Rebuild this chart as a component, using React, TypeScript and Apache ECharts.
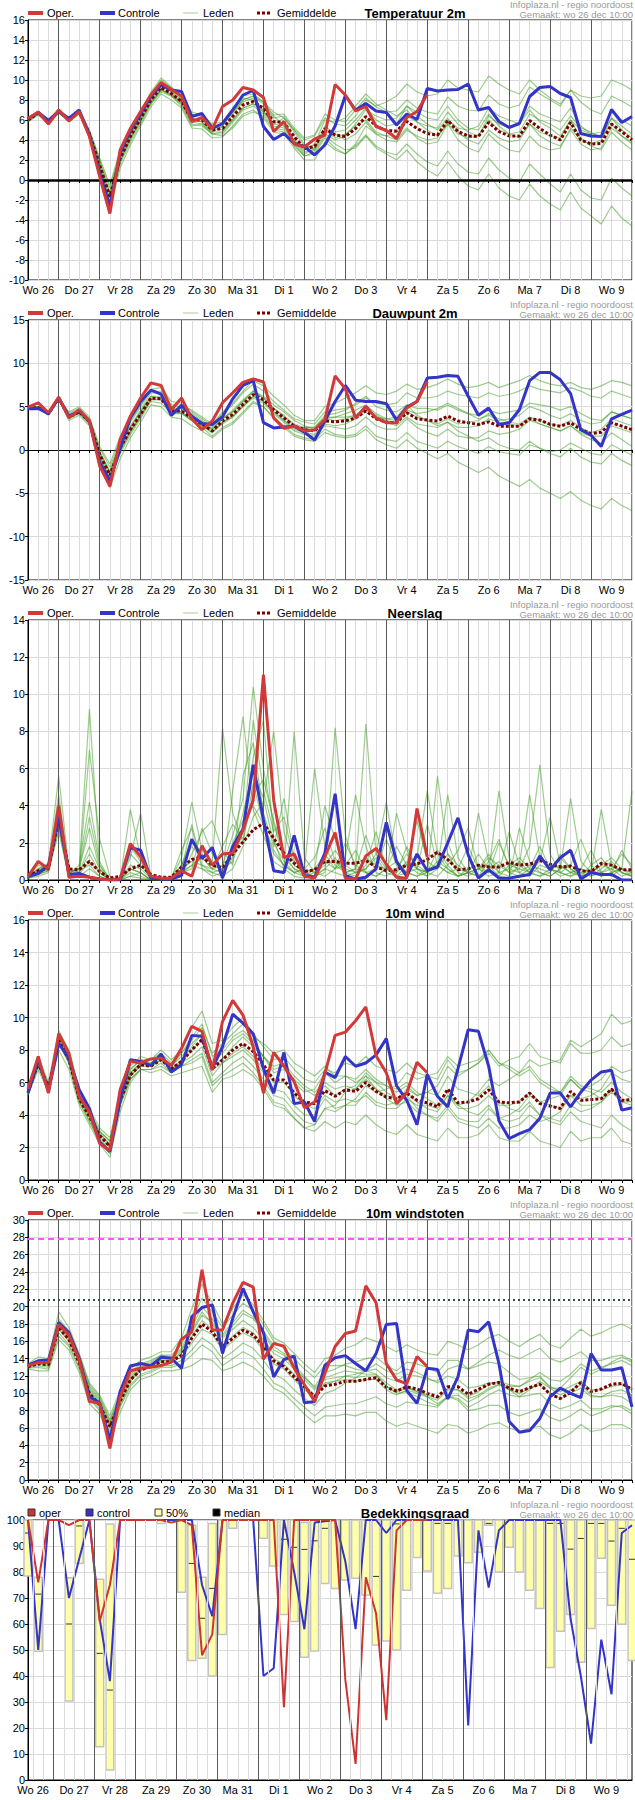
import React, { useEffect, useRef } from "react";
import * as echarts from "echarts";

const DAYS = ["Wo 26", "Do 27", "Vr 28", "Za 29", "Zo 30", "Ma 31", "Di 1", "Wo 2", "Do 3", "Vr 4", "Za 5", "Zo 6", "Ma 7", "Di 8", "Wo 9"];
const TITLES = ["Temperatuur 2m", "Dauwpunt 2m", "Neerslag", "10m wind", "10m windstoten", "Bedekkingsgraad"];

// ---------- Temperatuur 2m ----------
const T_OPER = [6.15,6.8,5.6,7.0,5.9,6.85,4.35,0.35,-3.35,3.0,5.15,6.85,8.5,9.75,9.05,8.4,5.85,6.25,5.1,7.35,8.0,9.25,9.0,8.25,4.85,5.85,3.6,3.3,4.1,4.5,9.55,8.5,6.9,7.35,5.35,4.95,4.15,6.25,6.85,8.55];
const T_CTRL = [6.15,6.75,5.95,6.85,6.15,7.0,4.5,0.65,-2.65,2.65,4.95,6.65,8.35,9.5,9.0,8.85,6.35,6.65,5.15,5.65,7.0,8.5,8.95,5.35,4.05,4.65,3.65,3.35,2.5,3.5,5.4,8.45,7.0,7.65,6.9,6.75,5.5,6.6,6.05,9.15,8.9,9.0,9.05,9.6,7.0,7.25,5.85,5.25,5.65,8.35,9.25,9.35,8.65,8.25,4.65,4.4,4.35,7.05,5.75,6.35];
const T_MEAN = [6.0,6.7,5.8,6.9,6.0,6.8,4.6,1.5,-1.65,2.15,4.35,6.15,8.0,9.25,8.65,7.85,6.0,6.0,5.0,5.15,6.35,7.5,7.85,7.15,5.85,5.75,4.35,3.15,3.35,5.15,4.5,4.35,5.15,6.35,5.4,4.95,4.9,5.85,5.15,4.65,4.5,5.95,4.85,4.4,4.35,5.75,4.85,4.4,4.4,5.95,5.15,4.5,4.0,5.75,4.0,3.6,3.65,5.6,4.85,4.0];
const T_M1 = [6.2,6.9,6.0,7.1,6.2,7.0,5.0,2.2,-0.5,3.0,5.0,6.8,8.8,10.2,9.3,8.4,6.8,6.5,5.6,5.8,7.2,8.4,8.6,7.8,6.5,6.6,5.2,4.2,4.5,6.6,6.0,5.8,7.0,8.2,7.3,6.8,6.9,8.0,7.2,6.8,6.6,8.3,7.4,7.0,6.9,8.5,7.6,7.2,7.5,9.3,8.6,8.0,7.4,9.0,7.8,7.0,6.6,8.4,7.9,7.3];
const T_M2 = [5.8,6.5,5.6,6.7,5.8,6.6,4.2,0.8,-3.0,1.2,3.5,5.4,7.3,8.6,8.0,7.2,5.2,5.1,4.2,4.3,5.4,6.6,7.0,6.2,4.8,4.6,3.2,2.0,2.0,3.8,3.0,2.6,3.4,4.5,3.4,2.8,2.5,3.6,2.6,1.8,1.4,2.9,1.6,0.8,0.6,2.2,1.0,0.2,-0.2,1.6,0.6,-0.4,-1.2,0.6,-1.0,-1.8,-2.0,0.2,-0.8,-1.6];
const T_M3 = [6.1,6.8,5.9,6.9,6.1,6.9,4.8,1.8,-1.2,2.6,4.6,6.4,8.4,9.6,9.0,8.1,6.4,6.6,5.4,5.0,6.0,7.2,7.6,7.4,6.2,6.4,5.0,3.6,3.0,4.6,4.0,4.4,5.6,7.0,6.4,6.0,6.2,7.4,6.4,5.6,5.0,6.2,4.8,4.0,3.6,5.0,4.2,3.8,4.0,5.6,4.8,4.4,4.2,6.0,5.0,4.6,4.8,6.8,6.0,5.4];
const T_M4 = [5.9,6.6,5.7,6.8,5.9,6.7,4.4,1.2,-2.2,1.8,4.0,5.8,7.6,8.8,8.4,7.6,5.6,5.4,4.6,4.8,6.6,7.8,8.2,7.0,5.4,5.2,3.8,2.6,3.2,5.4,4.6,4.0,4.6,5.8,4.6,4.0,3.8,5.0,4.4,4.0,4.2,6.0,5.2,5.0,5.4,7.2,6.4,6.0,5.6,7.0,5.8,5.2,4.4,6.0,4.2,3.4,3.0,4.8,3.8,3.0];
const T_M5 = [6.0,6.7,5.8,7.0,6.0,6.8,4.6,1.4,-1.8,2.2,4.4,6.2,8.2,9.4,8.8,8.0,6.2,5.8,4.8,5.4,6.8,8.0,8.4,7.6,6.4,5.4,4.0,3.0,3.6,6.0,5.8,6.2,7.4,8.6,7.6,7.0,6.4,7.0,5.8,5.0,4.4,5.6,4.0,3.2,2.8,4.6,3.6,3.0,2.8,4.4,3.4,3.0,3.2,5.2,4.0,3.6,4.0,6.2,5.4,4.6];
const T_M6 = [6.1,6.7,5.7,6.8,5.9,6.8,4.3,1.0,-2.6,1.6,3.8,5.6,7.6,9.0,8.4,7.4,5.4,5.6,4.6,4.4,5.2,6.4,6.8,6.4,5.0,4.8,3.4,2.4,2.6,4.2,3.2,2.6,3.6,5.4,4.6,4.4,4.8,6.4,5.8,5.4,5.2,6.8,5.6,4.8,4.4,6.0,5.0,4.6,4.8,6.6,6.0,5.6,5.0,6.4,5.2,4.8,4.2,5.6,4.4,3.6];
const T_M7 = [6.0,6.8,5.9,6.9,6.1,6.9,4.9,2.0,-0.8,2.8,4.8,6.6,8.6,10.0,9.2,8.2,6.6,6.4,5.4,5.6,6.8,8.0,8.4,7.8,6.8,6.2,5.0,4.0,4.4,6.2,5.6,5.4,6.4,8.0,7.4,7.8,8.4,9.6,8.8,8.4,8.6,10.0,9.2,9.0,8.8,10.4,9.6,9.0,8.6,10.0,9.0,8.2,7.6,9.0,8.4,8.2,8.4,10.0,9.6,9.0];
const T_M8 = [5.9,6.6,5.7,6.8,5.9,6.7,4.3,1.1,-2.4,1.9,4.2,5.9,7.8,9.0,8.5,7.7,5.8,5.6,4.6,4.6,5.8,7.0,7.4,6.6,5.2,5.0,3.6,2.4,2.8,4.4,3.6,3.0,3.2,4.4,3.2,2.6,2.0,3.0,1.8,1.0,0.4,1.8,0.4,-0.6,-1.0,0.6,-0.8,-1.6,-2.0,-0.4,-1.6,-2.4,-3.0,-1.2,-2.8,-3.6,-4.4,-2.6,-3.8,-4.6];
const T_M9 = [6.0,6.7,5.8,6.9,6.0,6.8,4.7,1.6,-1.4,2.4,4.6,6.2,8.0,9.2,8.6,7.8,6.0,6.2,5.2,5.4,7.0,8.2,8.0,6.8,5.6,6.2,4.8,3.4,3.2,5.0,4.8,5.0,6.0,7.2,6.0,5.4,5.6,7.4,6.8,6.2,6.0,7.4,6.0,5.2,5.0,6.6,5.4,4.6,4.2,5.6,4.4,3.8,3.4,5.0,3.6,3.0,3.2,5.2,4.4,3.8];
const T_M10 = [6.1,6.8,5.9,7.0,6.1,6.9,4.5,1.3,-2.0,2.0,4.2,6.0,7.8,9.0,8.6,7.8,6.0,5.8,4.8,4.8,6.0,7.2,7.6,6.8,5.6,5.4,4.0,2.8,3.0,5.0,4.2,4.6,5.4,6.0,4.8,4.4,4.0,5.2,4.2,3.6,3.8,5.6,4.6,4.2,4.4,6.4,5.6,5.2,5.6,7.4,6.6,6.2,5.8,7.2,5.4,4.6,4.4,6.2,5.0,4.2];

// ---------- Dauwpunt 2m ----------
const D_OPER = [4.95,5.45,4.3,6.1,3.7,4.65,3.35,-1.85,-4.2,1.2,3.9,6.0,7.75,7.45,4.65,6.0,3.6,2.35,3.35,5.45,6.6,7.8,8.2,7.85,3.7,2.5,2.75,2.2,2.3,3.5,8.55,7.05,3.7,5.05,3.7,3.15,3.15,4.85,5.6,7.9];
const D_CTRL = [4.75,4.8,4.2,6.0,3.9,4.5,3.35,-1.45,-3.55,0.15,3.7,5.6,6.9,6.45,4.0,5.15,3.9,3.05,2.95,3.85,5.9,7.45,8.0,3.15,2.55,2.65,2.75,2.05,1.15,3.35,5.6,7.45,5.75,5.6,5.6,5.35,3.45,4.95,5.6,8.3,8.4,8.6,8.5,6.2,4.0,4.85,2.95,3.15,4.65,8.0,8.95,8.95,8.1,6.5,2.35,1.7,0.4,3.6,4.1,4.6];
const D_MEAN = [4.8,4.9,4.2,6.0,3.8,4.4,3.3,-0.5,-2.9,0.25,2.35,4.1,6.0,5.9,4.5,4.5,3.7,3.0,2.2,3.35,4.1,5.25,6.4,5.8,4.65,3.7,2.75,2.35,2.2,3.35,3.25,3.35,3.7,4.5,3.6,3.2,3.15,4.3,3.6,3.45,3.35,3.9,3.35,3.15,2.95,3.25,2.75,2.75,2.75,3.6,3.45,2.95,2.75,3.15,2.35,1.9,2.05,3.15,2.75,2.35];
const D_M1 = [4.9,5.0,4.4,6.1,4.2,4.8,3.6,0.2,-2.0,1.2,3.2,5.0,7.0,7.2,5.6,5.4,4.4,3.6,2.8,4.2,5.2,6.6,7.6,6.8,5.6,4.6,3.6,3.2,3.0,4.4,4.6,4.8,5.2,6.0,5.4,5.2,5.4,6.6,6.0,6.0,6.2,6.8,6.4,6.2,6.0,6.6,6.2,6.4,6.8,7.4,7.0,6.8,6.6,7.2,6.8,6.2,6.0,6.8,6.4,6.0];
const D_M2 = [4.7,4.8,4.0,5.8,3.4,4.0,2.8,-1.4,-4.4,-1.0,1.4,3.2,5.2,5.0,3.8,3.6,2.8,2.2,1.4,2.4,3.0,4.2,5.4,5.0,3.6,2.6,1.6,1.2,1.0,2.0,1.6,1.4,1.6,2.4,1.2,0.6,0.2,1.2,0.2,-0.4,-1.0,-0.4,-1.4,-2.0,-2.6,-2.0,-3.0,-3.6,-4.2,-3.4,-4.4,-5.0,-5.6,-4.8,-5.8,-6.4,-6.8,-5.6,-6.4,-7.0];
const D_M3 = [4.8,4.9,4.3,6.0,3.9,4.5,3.4,-0.2,-2.4,0.8,2.8,4.6,6.6,6.6,5.0,5.0,4.2,3.4,2.6,3.6,4.4,5.6,6.8,6.2,5.2,4.4,3.4,2.8,2.4,3.6,3.8,4.2,4.6,5.2,4.2,3.6,3.4,4.6,4.2,4.4,4.8,5.4,4.8,4.2,3.6,4.0,3.4,3.6,4.0,5.0,4.6,4.0,3.6,4.2,3.4,3.0,3.2,4.4,4.0,3.6];
const D_M4 = [4.8,4.9,4.1,5.9,3.6,4.2,3.0,-1.0,-3.6,-0.4,1.8,3.6,5.6,5.4,4.2,4.2,3.4,2.8,2.0,3.0,3.8,5.0,6.0,5.4,4.2,3.2,2.2,1.8,1.6,2.8,2.6,2.4,2.8,3.8,2.8,2.4,2.4,3.6,2.6,2.0,1.6,2.4,1.6,1.4,1.4,2.2,1.8,2.0,2.4,3.4,3.0,2.6,2.2,2.8,1.8,1.2,0.8,2.0,1.2,0.4];
const D_M5 = [4.9,5.0,4.3,6.1,4.0,4.6,3.5,-0.4,-2.6,0.6,2.6,4.4,6.2,6.2,4.8,4.8,3.8,3.2,2.4,3.6,4.6,5.8,6.8,6.0,4.8,3.8,2.8,2.6,2.6,4.0,4.2,4.6,5.4,6.2,5.0,4.6,4.4,5.2,4.0,3.4,2.8,3.2,2.2,1.6,1.0,1.4,0.6,0.2,0.0,1.0,0.2,-0.4,-0.8,0.2,-0.8,-1.4,-1.6,-0.4,-1.2,-1.8];
const D_M6 = [4.7,4.8,4.1,5.9,3.7,4.3,3.2,-0.8,-3.4,-0.2,2.0,3.8,5.8,5.8,4.4,4.4,3.6,2.8,2.0,3.2,3.8,5.0,6.2,5.6,4.4,3.4,2.4,2.0,1.8,3.0,2.8,3.0,3.6,4.6,3.8,3.6,3.8,5.2,4.8,4.8,4.6,5.2,4.6,4.2,4.0,4.6,4.2,4.4,4.6,5.4,5.2,5.0,4.6,5.0,4.2,3.6,3.4,4.4,4.0,3.6];
const D_M7 = [4.8,5.0,4.4,6.0,4.4,5.0,3.8,0.4,-1.6,1.6,3.4,5.2,6.8,6.8,5.2,5.2,4.6,3.8,3.0,4.4,5.4,6.8,8.0,7.4,6.2,5.2,4.0,3.4,3.4,5.0,5.4,6.0,6.6,7.4,6.6,6.4,6.8,7.6,7.0,7.2,7.6,8.2,7.6,7.2,7.4,7.8,7.2,7.6,8.0,8.6,8.0,7.6,7.4,7.8,7.2,7.0,7.4,8.0,7.8,7.4];
const D_M8 = [4.8,4.9,4.2,6.0,3.8,4.4,3.2,-0.6,-3.0,0.0,2.2,4.0,6.0,6.0,4.6,4.4,3.4,2.6,1.6,2.6,3.2,4.4,5.6,5.0,3.8,2.8,1.8,1.4,1.2,2.4,1.8,1.6,1.8,2.8,1.6,1.2,1.0,2.0,1.0,0.6,0.2,1.0,0.4,0.0,-0.4,0.4,-0.2,-0.4,-0.6,0.6,0.2,-0.2,0.0,0.8,0.2,-0.4,-0.6,0.6,0.0,-0.6];
const D_M9 = [4.8,4.9,4.2,6.0,3.9,4.5,3.4,-0.3,-2.6,0.6,2.6,4.4,6.2,6.0,4.6,4.8,4.0,3.2,2.4,3.6,4.4,5.6,6.6,6.0,4.8,4.0,3.0,2.6,2.6,3.8,3.8,3.8,4.0,4.8,3.8,3.2,2.8,3.8,3.0,2.8,2.6,3.2,2.6,2.6,2.8,3.6,3.2,3.0,2.8,3.6,3.0,2.6,2.2,2.8,2.0,1.6,1.6,2.8,2.4,2.0];
const D_M10 = [4.8,4.9,4.2,6.0,3.7,4.3,3.1,-0.9,-3.4,0.0,2.2,4.0,5.8,5.8,4.4,4.2,3.4,2.8,2.2,3.2,4.0,5.2,6.2,5.6,4.4,3.4,2.6,2.4,2.4,3.6,3.4,3.6,4.0,4.8,4.0,3.4,3.2,4.4,3.8,3.4,3.0,3.6,3.0,3.2,3.4,4.2,3.6,3.2,3.0,3.8,3.4,3.0,2.8,3.4,2.6,2.0,2.4,3.6,3.2,2.8];

// ---------- Neerslag ----------
const P_OPER = [0.2,1.0,0.6,4.0,0.15,0.2,0.15,0.05,0,0.05,1.95,1.25,0.2,0.1,0.1,0.5,0.2,1.85,0.8,1.4,1.45,2.7,4.3,11.05,4.3,1.2,1.4,0.2,0.1,1.25,2.55,0.1,0.05,1.3,1.7,0.85,0.15,0.1,3.85,1.25];
const P_CTRL = [0.2,0.35,0.8,3.4,0.3,0.35,0.15,0.05,0,0,1.75,1.6,0.1,0.05,0.05,0.25,2.2,1.15,1.75,0.1,1.8,2.75,6.2,3.25,0.5,0.4,2.4,0.25,0.15,1.45,4.65,0.25,0.05,0.15,0.6,3.1,1.0,0.2,1.4,0.5,0.7,2.0,3.35,1.35,0.1,0.55,0.1,0.1,0.2,0.3,1.3,0.55,1.2,1.6,0.05,0.4,0.3,0.3,0,0];
const P_MEAN = [0.2,0.5,0.6,3.3,0.6,0.55,1.0,0.45,0.1,0.2,0.6,0.8,0.3,0.15,0.15,0.7,1.1,1.25,0.8,0.65,1.4,2.05,2.7,3.05,2.25,1.45,0.9,0.45,0.55,1.0,1.0,0.9,0.9,1.05,0.7,0.5,0.55,0.8,0.85,1.1,1.5,1.1,0.55,0.6,0.8,0.7,0.7,0.95,0.8,0.85,1.05,0.85,0.7,0.75,0.5,0.45,0.9,0.8,0.55,0.55];
const P_M1 = [0.2,0.6,0.8,4.6,0.4,0.6,9.2,0.8,0.0,0.0,0.6,0.4,0.0,0.0,0.1,0.8,1.8,1.2,0.6,0.8,2.4,4.4,10.4,6.0,3.0,1.2,0.6,0.2,0.4,0.8,1.6,0.8,0.4,0.6,1.2,0.4,0.2,0.8,3.2,1.0,0.6,1.4,0.8,0.4,0.2,1.0,2.2,0.6,0.4,0.8,0.6,0.4,1.4,0.6,0.2,0.4,0.8,1.2,0.6,0.4];
const P_M2 = [0.1,0.4,0.6,3.2,0.2,0.4,7.0,2.2,0.2,0.0,3.8,1.2,0.1,0.0,0.0,0.4,0.6,2.8,1.4,0.4,1.2,2.8,6.6,8.6,2.2,0.6,0.2,0.1,0.2,0.4,8.2,2.4,0.6,0.4,0.2,0.6,1.8,0.8,0.4,0.2,0.6,4.6,1.2,0.4,0.6,0.8,0.2,0.1,2.8,1.0,0.4,0.2,0.6,4.4,1.0,0.4,0.2,0.4,0.6,0.2];
const P_M3 = [0.2,0.5,0.7,3.8,0.3,0.8,4.2,1.0,0.0,0.0,1.2,3.6,0.2,0.1,0.0,0.6,3.0,0.8,0.4,0.2,0.6,1.8,3.4,4.2,8.0,2.6,0.8,0.4,0.6,1.4,0.6,1.2,4.6,1.8,0.4,0.2,0.6,1.4,0.8,0.4,0.2,0.8,1.6,2.8,0.6,0.4,4.8,1.2,0.4,0.2,0.8,0.6,0.4,0.8,2.2,0.8,0.4,0.6,1.4,0.8];
const P_M4 = [0.1,0.3,0.5,2.6,0.1,0.2,0.6,0.2,0.0,0.0,0.4,0.2,0.0,0.0,0.1,1.2,4.2,1.6,1.0,8.2,3.6,2.0,5.2,3.0,1.4,0.8,0.4,0.6,6.0,1.8,0.8,0.4,0.2,0.8,2.6,0.6,0.4,1.0,0.6,0.2,5.6,1.4,0.4,0.2,0.6,1.2,0.8,0.4,0.2,0.6,1.8,0.6,0.2,0.4,0.6,1.6,0.4,0.2,0.6,0.4];
const P_M5 = [0.2,0.6,0.9,5.6,0.6,0.4,1.8,0.6,0.0,0.0,0.2,0.1,0.0,0.0,0.0,0.2,1.4,2.6,3.2,1.6,0.8,5.6,7.4,3.6,1.8,4.4,1.2,0.4,0.2,0.6,1.2,0.4,0.6,8.4,1.4,0.6,0.2,0.4,1.2,4.8,1.4,0.6,0.2,0.4,3.6,1.0,0.4,0.2,0.8,4.6,1.2,0.6,0.4,0.2,0.6,0.4,3.8,0.8,0.4,0.2];
const P_M6 = [0.1,0.2,0.4,2.8,0.2,0.3,1.0,0.4,0.0,0.0,0.8,0.6,0.1,0.0,0.1,0.4,0.8,0.6,0.2,0.4,4.8,8.8,3.8,2.4,1.0,0.6,8.0,1.2,0.4,0.2,0.6,0.8,1.6,0.4,0.2,0.6,1.0,0.4,0.2,0.6,0.8,0.4,0.6,1.8,0.6,0.2,0.4,2.6,0.8,0.4,0.2,0.6,0.8,0.4,0.2,0.8,1.2,0.4,0.6,4.8];
const P_M7 = [0.2,0.8,0.6,4.2,0.4,0.6,2.8,0.6,0.0,0.0,1.8,1.0,0.1,0.0,0.0,0.8,2.2,1.4,0.8,0.6,1.6,3.6,5.8,4.4,2.0,1.0,0.4,0.2,0.6,4.0,2.2,0.6,0.4,1.2,0.8,0.4,3.6,1.6,0.6,0.4,1.0,0.6,0.2,0.4,1.4,0.6,0.2,0.8,1.2,0.6,0.4,0.2,0.6,0.8,0.4,0.2,0.6,1.0,0.4,0.2];
const P_M8 = [0.1,0.4,0.6,3.4,0.2,0.4,1.4,0.4,0.0,0.0,0.6,0.4,0.0,0.0,0.1,0.6,1.0,0.8,0.6,1.8,3.0,2.2,4.6,5.4,3.2,1.4,0.6,0.4,0.2,0.6,0.4,0.2,0.4,0.6,1.4,4.2,1.0,0.4,0.2,0.4,1.6,0.8,0.2,0.4,0.2,0.6,1.0,0.4,0.6,1.8,6.2,1.4,0.4,0.2,0.4,0.6,0.2,0.4,1.6,0.6];
const P_M9 = [0.2,0.5,0.8,4.0,0.4,0.6,3.4,0.8,0.0,0.0,1.4,0.8,0.1,0.0,0.0,0.4,0.8,1.2,0.6,0.4,2.0,3.2,4.0,3.0,1.6,0.8,0.4,0.6,1.2,2.8,1.0,0.4,0.6,2.4,0.8,0.6,0.4,1.8,0.6,0.4,0.8,2.0,0.6,0.4,0.6,1.4,0.4,0.6,1.0,0.4,0.2,0.4,1.2,0.6,0.2,0.4,0.8,0.6,0.2,0.4];
const P_M10 = [0.1,0.3,0.5,3.0,0.3,0.5,0.8,0.2,0.0,0.0,0.2,0.4,0.0,0.0,0.1,1.6,2.8,0.6,0.4,0.6,1.0,2.6,8.6,4.8,2.6,3.4,1.0,0.6,0.4,1.0,0.6,2.0,0.8,0.4,0.6,2.2,0.8,0.4,0.6,3.0,0.8,0.4,0.2,0.6,0.8,0.4,2.0,0.8,0.6,0.4,1.0,3.4,0.8,0.4,0.6,0.2,0.4,0.8,0.4,0.2];

// ---------- 10m wind ----------
const W_OPER = [5.6,7.6,5.35,9.0,7.8,5.15,4.2,2.25,1.8,5.55,7.3,7.2,7.45,7.5,7.05,8.1,9.45,9.15,6.75,9.75,11.05,10.15,8.2,5.35,7.85,7.0,6.05,4.45,4.8,6.55,8.9,9.1,9.8,10.65,7.65,6.6,4.7,5.35,7.25,6.6];
const W_CTRL = [5.35,7.4,5.45,8.4,7.5,5.55,4.4,2.35,1.75,4.9,7.4,7.3,7.05,7.75,6.65,7.1,8.9,8.85,6.85,8.2,10.2,9.65,9.0,6.85,5.35,7.85,4.7,4.8,3.6,6.65,6.3,7.6,7.0,7.2,7.7,8.7,5.8,4.9,3.4,6.5,5.15,4.5,6.85,9.25,9.15,7.0,3.65,2.55,2.85,3.1,3.8,5.35,5.35,4.5,5.4,6.15,6.65,6.75,4.3,4.45];
const W_MEAN = [5.4,7.2,5.7,8.6,7.4,5.0,3.9,2.75,2.05,4.9,6.45,7.1,7.0,7.4,6.85,7.3,8.0,8.65,6.85,7.4,8.0,8.4,7.9,7.1,6.15,6.15,5.35,4.8,4.7,5.5,5.15,5.55,5.45,6.0,5.45,5.1,5.0,5.35,4.9,4.75,4.5,5.6,4.75,4.8,5.0,5.55,4.8,4.75,4.8,5.35,4.7,4.55,4.4,5.45,4.9,4.95,5.0,5.6,4.9,4.95];
const W_M1 = [5.6,7.6,6.0,9.2,8.0,5.6,4.4,3.2,2.6,5.4,7.0,7.6,7.4,8.0,7.4,8.0,9.4,10.4,8.4,8.6,9.4,10.0,9.0,8.2,7.4,7.6,6.8,6.2,6.0,6.8,6.6,7.2,7.0,7.6,7.0,6.8,6.6,7.2,6.6,6.4,6.2,7.4,6.6,6.8,7.2,7.8,7.0,7.4,7.6,8.4,7.6,7.4,7.2,8.4,7.8,7.8,8.0,8.8,8.2,8.4];
const W_M2 = [5.2,6.8,5.4,8.0,6.8,4.6,3.4,2.2,1.4,4.2,6.0,6.8,6.6,6.8,6.4,6.6,6.8,7.0,5.4,6.2,6.4,6.8,6.4,5.6,4.6,4.4,3.8,3.2,3.0,3.6,3.2,3.6,3.4,4.0,3.4,3.0,2.8,3.4,2.8,2.6,2.4,3.2,2.6,2.6,2.8,3.4,2.6,2.4,2.4,3.0,2.4,2.2,2.0,3.0,2.4,2.6,2.6,3.2,2.4,2.2];
const W_M3 = [5.5,7.4,5.8,8.8,7.6,5.2,4.2,3.0,2.4,5.2,6.8,7.4,7.2,7.6,7.0,7.8,8.8,9.6,7.6,8.0,8.8,9.2,8.6,7.6,6.8,7.0,6.0,5.4,5.6,6.6,6.0,6.4,6.2,6.8,6.2,5.8,5.4,5.8,5.2,5.4,5.8,7.0,6.4,6.8,7.2,8.0,7.2,6.8,6.4,6.8,6.0,5.6,5.4,6.4,5.8,5.6,5.4,6.0,5.4,5.0];
const W_M4 = [5.3,7.0,5.6,8.4,7.2,4.8,3.6,2.4,1.8,4.6,6.2,6.8,6.8,7.2,6.6,7.0,7.4,7.8,6.0,6.6,7.2,7.6,7.0,6.2,5.2,5.0,4.2,3.6,3.4,4.4,4.6,5.4,5.6,6.4,6.0,5.8,5.6,6.0,5.4,5.0,4.6,5.4,4.6,4.2,4.0,4.6,3.8,3.6,3.8,4.6,4.0,3.8,3.6,4.6,4.2,4.4,4.8,5.6,5.0,4.8];
const W_M5 = [5.4,7.2,5.8,8.6,7.4,5.2,4.0,2.8,2.2,5.0,6.6,7.2,7.0,7.4,6.8,7.4,8.2,9.0,7.0,7.4,8.2,8.8,8.2,7.6,7.0,7.2,6.4,5.8,5.4,6.0,5.6,5.8,5.6,6.2,5.6,5.2,5.0,5.4,4.8,4.4,4.2,5.2,4.6,4.8,5.4,6.2,5.8,6.2,6.6,7.4,7.0,7.2,7.4,8.6,8.2,8.6,9.0,10.2,9.6,9.8];
const W_M6 = [5.4,7.1,5.6,8.5,7.3,5.0,3.8,2.6,1.8,4.8,6.4,7.0,7.0,7.4,6.8,7.2,7.6,8.2,6.4,7.2,7.6,8.0,7.4,6.6,5.6,5.4,4.6,4.0,4.0,5.0,4.4,4.6,4.6,5.4,4.8,4.6,4.8,5.6,5.2,5.4,5.2,6.4,5.6,5.4,5.2,5.8,4.8,4.4,4.2,4.8,4.0,3.6,3.4,4.2,3.6,3.4,3.2,4.0,3.4,3.0];
const W_M7 = [5.6,7.4,5.9,8.8,7.6,5.2,4.2,3.0,2.4,5.2,6.8,7.4,7.4,7.8,7.2,7.8,8.6,9.4,7.8,8.4,9.0,9.6,8.8,8.4,7.8,8.0,7.2,6.8,6.4,7.0,6.4,6.4,6.0,6.4,5.6,5.0,4.6,4.8,4.2,4.0,3.8,4.6,3.8,3.6,3.6,4.4,3.8,4.0,4.4,5.2,4.8,5.0,5.2,6.2,5.6,5.4,5.0,5.6,4.8,4.6];
const W_M8 = [5.3,7.0,5.5,8.4,7.2,4.8,3.6,2.4,1.6,4.6,6.2,6.8,6.8,7.0,6.6,7.0,7.2,7.6,5.8,6.4,6.8,7.2,6.6,5.8,4.8,4.6,3.8,3.2,3.4,4.4,4.2,4.6,5.0,5.8,5.4,5.6,5.8,6.6,6.2,6.4,6.6,7.6,7.0,7.2,7.4,8.0,7.2,7.0,6.6,7.0,6.2,5.8,5.4,6.2,5.6,5.8,6.2,7.0,6.6,6.8];
const W_M9 = [5.4,7.2,5.7,8.6,7.4,5.0,3.9,2.7,2.0,4.9,6.4,7.1,7.0,7.4,6.9,7.2,8.0,8.6,6.8,7.2,7.8,8.2,7.6,6.8,6.0,6.0,5.2,4.6,4.4,5.2,4.8,5.0,4.8,5.2,4.6,4.4,4.4,5.0,4.6,4.6,4.4,5.2,4.4,4.4,4.6,5.2,4.6,4.6,4.8,5.4,4.8,4.6,4.4,5.2,4.6,4.6,4.8,5.4,4.8,4.8];
const W_M10 = [5.5,7.3,5.8,8.7,7.5,5.1,4.0,2.9,2.2,5.0,6.6,7.2,7.2,7.6,7.0,7.6,8.4,9.0,7.2,7.8,8.6,9.0,8.4,7.6,6.6,6.8,6.2,5.6,5.2,5.8,5.2,5.6,5.8,6.6,6.0,5.4,5.0,5.2,4.4,4.0,3.6,4.4,3.6,3.4,3.2,3.8,3.2,3.2,3.4,4.0,3.6,3.8,4.2,5.2,5.0,5.2,5.6,6.6,6.2,6.0];

// ---------- 10m windstoten ----------
const G_OPER = [13.2,13.55,13.6,17.95,16.75,13.85,9.05,8.85,3.65,9.6,12.6,12.9,13.0,13.2,13.6,16.25,17.1,24.25,17.3,17.3,20.4,22.8,22.25,13.95,15.75,15.45,12.9,11.0,9.05,12.3,15.4,16.9,17.2,22.4,20.45,13.45,11.55,11.1,14.25,13.1];
const G_CTRL = [13.25,13.75,13.85,18.15,17.0,14.05,9.6,8.9,4.6,10.2,13.15,13.45,13.2,14.15,14.05,12.9,18.85,19.9,20.2,14.6,18.65,22.1,19.4,17.0,11.9,13.9,14.3,8.9,9.05,13.25,14.1,14.35,13.45,12.6,14.6,17.95,18.05,10.3,8.85,12.9,12.75,9.35,11.9,17.3,17.1,18.25,13.45,6.75,5.5,5.7,7.1,9.6,10.6,10.0,9.5,14.6,12.7,12.7,12.95,8.45];
const G_MEAN = [13.1,13.4,13.3,17.6,16.2,13.5,10.0,8.65,6.15,9.05,11.55,12.7,13.1,13.65,13.65,14.4,16.35,18.0,17.1,15.4,16.35,17.3,16.75,15.4,13.75,13.1,11.9,10.75,9.6,10.85,11.05,11.4,11.4,11.6,11.8,10.7,10.25,10.75,10.5,10.0,9.6,10.75,10.75,9.9,10.45,11.05,11.25,10.6,10.2,10.65,11.05,9.9,9.4,10.1,11.25,10.2,10.5,11.05,11.15,10.45];
const G_M1 = [13.4,14.2,14.0,19.4,17.6,14.6,11.2,9.8,7.4,10.4,12.8,13.8,14.2,14.8,14.8,16.4,19.8,22.6,20.4,18.0,19.8,21.4,20.2,18.4,16.4,15.8,14.6,13.4,12.4,14.0,14.4,15.2,15.6,16.4,16.0,15.4,14.8,15.6,15.0,14.6,14.4,16.0,15.6,15.0,15.6,16.4,16.8,16.0,15.4,16.2,16.8,15.6,15.2,16.4,17.4,16.6,17.0,17.6,18.0,17.4];
const G_M2 = [12.8,12.6,12.6,16.2,15.0,12.4,8.8,7.6,4.8,7.8,10.4,11.6,12.0,12.6,12.6,12.8,13.2,14.0,13.8,12.6,13.0,13.6,13.0,12.0,10.6,10.0,8.8,7.6,6.6,7.4,7.4,7.6,7.4,7.8,7.8,6.8,6.2,6.6,6.2,5.8,5.4,6.4,6.2,5.4,5.8,6.4,6.6,6.0,5.6,6.0,6.2,5.2,4.8,5.4,6.4,5.6,5.8,6.4,6.4,5.8];
const G_M3 = [13.2,13.8,13.6,18.4,17.0,14.2,10.8,9.4,6.8,9.8,12.2,13.2,13.6,14.4,14.2,15.2,17.6,20.0,18.6,16.8,18.2,19.6,18.8,17.2,15.4,14.6,13.2,12.0,10.6,11.8,12.2,12.6,12.4,12.2,12.2,10.8,10.0,10.2,9.6,9.0,8.6,9.6,9.4,8.4,9.0,9.8,10.4,9.8,9.6,10.4,11.4,10.6,10.6,11.8,13.0,12.2,12.8,13.6,14.2,13.6];
const G_M4 = [13.0,13.2,13.0,17.0,15.6,13.0,9.6,8.2,5.6,8.6,11.0,12.2,12.6,13.2,13.2,13.8,15.0,16.4,15.6,14.0,14.8,15.8,15.2,13.8,12.2,11.6,10.4,9.4,8.6,10.0,10.4,11.2,11.8,12.6,13.4,12.6,12.2,12.8,12.4,11.8,11.2,12.0,11.6,10.6,10.8,11.2,11.2,10.4,9.6,9.8,10.0,8.8,8.2,8.6,9.2,8.2,8.2,8.6,8.4,7.6];
const G_M5 = [13.2,13.6,13.4,17.8,16.4,13.8,10.4,9.0,6.4,9.4,11.8,12.8,13.2,13.8,13.8,14.8,17.2,19.4,18.0,16.4,17.4,18.4,17.6,16.2,14.6,14.0,12.8,11.8,10.8,12.4,12.8,13.4,13.6,14.0,14.2,13.2,12.6,13.6,13.4,13.0,12.4,13.8,13.8,12.8,13.2,13.6,13.4,12.4,11.6,11.8,12.0,10.6,9.8,10.4,11.0,9.8,9.6,9.8,9.6,8.8];
const G_M6 = [12.9,13.0,12.8,16.6,15.4,12.8,9.4,8.0,5.4,8.4,10.8,12.0,12.4,13.0,13.0,13.4,14.4,15.6,14.8,13.2,14.0,14.8,14.2,12.8,11.2,10.6,9.4,8.4,7.4,8.4,8.6,8.8,8.8,9.2,9.6,8.8,8.4,9.0,8.8,8.6,8.4,9.6,9.8,9.0,9.6,10.4,11.0,10.8,10.8,11.6,12.4,11.6,11.4,12.2,13.4,12.6,13.0,13.4,13.8,13.2];
const G_M7 = [13.3,13.8,13.8,18.6,17.2,14.4,11.0,9.6,7.0,10.0,12.4,13.4,13.8,14.4,14.4,15.6,18.4,21.0,19.4,17.6,19.0,20.4,19.6,18.0,16.0,15.2,14.0,12.8,11.8,13.2,13.2,13.2,12.8,12.6,12.2,11.2,10.4,10.8,10.2,9.6,8.8,9.6,9.2,8.0,8.2,8.6,8.6,7.8,7.4,7.8,8.2,7.2,6.8,7.4,8.2,7.4,7.8,8.4,8.6,8.0];
const G_M8 = [13.0,13.4,13.2,17.4,16.0,13.4,10.0,8.6,6.0,9.0,11.4,12.6,13.0,13.6,13.6,14.2,15.8,17.4,16.8,15.0,16.0,17.0,16.4,15.0,13.4,12.8,11.6,10.4,9.6,11.0,11.4,12.0,12.2,12.6,12.8,11.8,11.4,12.2,12.0,11.6,11.4,12.8,13.2,12.8,13.6,14.4,15.0,14.4,14.0,14.6,15.2,14.0,13.6,14.2,14.8,13.8,13.8,14.2,14.4,13.8];
const G_M9 = [13.1,13.5,13.4,17.6,16.2,13.6,10.2,8.8,6.2,9.2,11.6,12.8,13.2,13.8,13.8,14.6,16.6,18.4,17.4,15.6,16.6,17.6,17.0,15.6,14.0,13.4,12.2,11.0,9.8,11.2,11.4,11.6,11.4,11.6,11.6,10.4,9.8,10.4,10.0,9.6,9.2,10.4,10.4,9.6,10.2,11.0,11.4,11.0,10.8,11.4,11.8,10.8,10.2,10.8,11.4,10.4,10.4,10.8,11.0,10.4];
const G_M10 = [13.2,13.6,13.6,18.0,16.6,13.8,10.6,9.2,6.6,9.6,12.0,13.0,13.4,14.0,14.0,15.0,17.0,19.0,18.2,16.6,17.8,19.2,18.6,17.0,15.0,14.4,13.0,11.6,10.4,11.6,11.8,12.0,11.8,12.0,12.0,10.8,10.2,10.6,10.2,9.8,9.4,10.6,10.4,9.4,9.8,10.6,11.0,10.4,10.0,10.6,11.0,10.0,9.4,10.0,10.6,9.6,9.6,10.2,10.4,9.8];
const G_LIMITS = [27.8, 20.8];

// ---------- Bedekkingsgraad ----------
const C_OPER = [100,76,100,100,98,100,100,61,75,100,100,100,100,100,99,100,98,48,56,100,100,100,100,100,100,28,100,100,100,100,100,38.5,6.2,78,64,23,96,100,100,100];
const C_CTRL = [100,50,100,100,70,85,100,62,38,100,100,100,100,100,100,100,100,75,63,100,100,100,100,40,43,100,80,58,99,99.5,100,84,58,100,100,95,100,100,100,100,100,100,100,21,96,74,96,100,100,100,100,100,100,62,40,14,54,33,95,98];
const C_LOW = [78.5,49.5,100,100,30.4,83.3,100,12.8,3.8,100,100,100,100,98.7,100,72.2,46,46.8,40,56,96.8,100,100,93,82.3,63.7,61,47.2,49.6,75.6,73.7,76.9,77.6,71.2,51.9,53.5,50,73,85.6,80.4,71.8,73.7,86.2,83.6,87.6,98,80,89.5,80,73,66,43.3,57.2,63.7,45.3,58.3,85.3,67.2,59.9,46];
const C_HIGH = [100,78,100,100,77.8,100,100,77.2,98.5,100,100,100,100,100,100,100,98,78,98.7,100,100,100,100,100,100,100,100,99,100,100,100,100,100,100,100,100,100,100,100,100,100,100,100,100,100,100,100,100,100,100,100,100,100,100,100,100,100,100,100,100];
const C_MED = [95,71.5,100,100,60,97.7,100,48.7,34.6,100,100,100,100,100,100,100,83.3,62.2,73.7,100,100,100,100,100,100,92.6,89.5,88.7,92,96.8,100,100,100,100,78.3,100,98.5,100,100,100,98.7,98.7,100,100,100,98.7,100,100,100,100,100,98.7,98.7,88.8,92.9,98.7,98.7,91.9,96.8,84.9];

const FONT = "'Liberation Sans', Arial, sans-serif";
const RED = "#d23a3a";
const BLUE = "#3434c8";
const GREEN = "rgba(60,155,30,0.5)";
const MEANC = "#7a0000";

function pts(arr: number[], start: number) {
  return arr.map((v, i) => [start + 6 * i, v]);
}

const PANELS = [
  { min: -10, max: 16, step: 2, oper: T_OPER, ctrl: T_CTRL, mean: T_MEAN, members: [T_M1, T_M2, T_M3, T_M4, T_M5, T_M6, T_M7, T_M8, T_M9, T_M10] },
  { min: -15, max: 15, step: 5, oper: D_OPER, ctrl: D_CTRL, mean: D_MEAN, members: [D_M1, D_M2, D_M3, D_M4, D_M5, D_M6, D_M7, D_M8, D_M9, D_M10] },
  { min: 0, max: 14, step: 2, oper: P_OPER, ctrl: P_CTRL, mean: P_MEAN, members: [P_M1, P_M2, P_M3, P_M4, P_M5, P_M6, P_M7, P_M8, P_M9, P_M10] },
  { min: 0, max: 16, step: 2, oper: W_OPER, ctrl: W_CTRL, mean: W_MEAN, members: [W_M1, W_M2, W_M3, W_M4, W_M5, W_M6, W_M7, W_M8, W_M9, W_M10] },
  { min: 0, max: 30, step: 2, oper: G_OPER, ctrl: G_CTRL, mean: G_MEAN, members: [G_M1, G_M2, G_M3, G_M4, G_M5, G_M6, G_M7, G_M8, G_M9, G_M10] },
];

const PLOT_LEFT = 28;
const PLOT_W = 606;
const PLOT_H = 260;
const topOf = (k: number) => 20 + 300 * k;

function dayLabel(v: number) {
  const r = ((v % 24) + 24) % 24;
  if (r === 12) {
    const idx = (v - 12) / 24;
    return DAYS[idx] || "";
  }
  return "";
}

function buildOption() {
  const grids: any[] = [];
  const xAxes: any[] = [];
  const yAxes: any[] = [];
  const series: any[] = [];
  const graphics: any[] = [];
  const dayLines = [];
  for (let h = 24; h <= 336; h += 24) dayLines.push(h);

  const axisLabelStyle = { fontSize: 11, fontFamily: FONT, color: "#000" };

  for (let k = 0; k < 6; k++) {
    const top = topOf(k);
    grids.push({ left: PLOT_LEFT, width: PLOT_W, top, height: PLOT_H, show: true, borderColor: "#000", borderWidth: 1, backgroundColor: "transparent" });
    const isCloud = k === 5;
    xAxes.push({
      type: "value",
      gridIndex: k,
      min: isCloud ? 9 : 6,
      max: isCloud ? 363 : 360,
      interval: isCloud ? 3 : 6,
      axisLine: { show: true, lineStyle: { color: "#000", width: 1 } },
      axisTick: { show: !isCloud, length: 3, lineStyle: { color: "#000" } },
      axisLabel: { ...axisLabelStyle, margin: 4, formatter: dayLabel, showMinLabel: true, showMaxLabel: true },
      splitLine: { show: !isCloud, lineStyle: { color: "#dadada", width: 1 } },
    });
    const p = isCloud ? { min: 0, max: 100, step: 10 } : PANELS[k];
    yAxes.push({
      type: "value",
      gridIndex: k,
      min: p.min,
      max: p.max,
      interval: p.step,
      axisLine: { show: true, lineStyle: { color: "#000", width: 1 } },
      axisTick: { show: true, length: 3, lineStyle: { color: "#000" } },
      axisLabel: { ...axisLabelStyle, margin: 3 },
      splitLine: { show: true, lineStyle: { color: "#dadada", width: 1 } },
    });

    graphics.push({ type: "text", x: 415, y: top - 7, style: { text: TITLES[k], align: "center", verticalAlign: "middle", fontSize: 13, fontWeight: "bold", fontFamily: FONT, fill: "#000" } });
    graphics.push({ type: "text", x: 633, y: top - 16, style: { text: "Infoplaza.nl - regio noordoost", align: "right", verticalAlign: "middle", fontSize: 9.5, fontFamily: FONT, fill: "#9a9a9a" } });
    graphics.push({ type: "text", x: 633, y: top - 6, style: { text: "Gemaakt: wo 26 dec 10:00", align: "right", verticalAlign: "middle", fontSize: 9.5, fontFamily: FONT, fill: "#9a9a9a" } });

    const ly = top - 7;
    if (!isCloud) {
      const items = [
        { x: 28, tx: 47, text: "Oper.", stroke: RED, w: 4, dash: null },
        { x: 100, tx: 118, text: "Controle", stroke: BLUE, w: 4, dash: null },
        { x: 183, tx: 203, text: "Leden", stroke: "rgba(70,160,40,0.5)", w: 1, dash: null },
        { x: 257, tx: 277, text: "Gemiddelde", stroke: MEANC, w: 3, dash: [3, 2] },
      ];
      items.forEach((it) => {
        graphics.push({ type: "line", shape: { x1: it.x, y1: ly, x2: it.x + 15, y2: ly }, style: { stroke: it.stroke, lineWidth: it.w, lineDash: it.dash || undefined } });
        graphics.push({ type: "text", x: it.tx, y: ly, style: { text: it.text, align: "left", verticalAlign: "middle", fontSize: 11, fontFamily: FONT, fill: "#000" } });
      });
    } else {
      const items = [
        { x: 28, tx: 39, text: "oper", fill: "#cc3333" },
        { x: 86, tx: 97, text: "control", fill: "#3333cc" },
        { x: 155, tx: 166, text: "50%", fill: "#ffffaa" },
        { x: 213, tx: 224, text: "median", fill: "#000000" },
      ];
      items.forEach((it) => {
        graphics.push({ type: "rect", shape: { x: it.x, y: ly - 4, width: 7, height: 7 }, style: { fill: it.fill, stroke: "#333", lineWidth: 1 } });
        graphics.push({ type: "text", x: it.tx, y: ly, style: { text: it.text, align: "left", verticalAlign: "middle", fontSize: 11, fontFamily: FONT, fill: "#000" } });
      });
    }

    if (!isCloud) {
      const P = PANELS[k];
      const mlData: any[] = dayLines.map((h) => ({ xAxis: h, lineStyle: { color: "#5a5a5a", width: 1, type: "solid" } }));
      if (k === 0) mlData.push({ yAxis: 0, lineStyle: { color: "#000", width: 2.5, type: "solid" } });
      series.push({
        type: "line", xAxisIndex: k, yAxisIndex: k, data: pts(P.mean, 6), symbol: "none", silent: true, z: 1,
        lineStyle: { opacity: 0 },
        markLine: { silent: true, symbol: ["none", "none"], label: { show: false }, animation: false, data: mlData },
      });
      P.members.forEach((m) => {
        series.push({ type: "line", xAxisIndex: k, yAxisIndex: k, data: pts(m, 6), symbol: "none", silent: true, z: 2, lineStyle: { color: GREEN, width: 1.2 } });
      });
      if (k === 4) {
        series.push({
          type: "line", xAxisIndex: k, yAxisIndex: k, data: [], symbol: "none", silent: true, z: 3,
          markLine: {
            silent: true, symbol: ["none", "none"], label: { show: false }, animation: false,
            data: [
              { yAxis: G_LIMITS[0], lineStyle: { color: "#ff55ff", width: 2, type: [6, 4] } },
              { yAxis: G_LIMITS[1], lineStyle: { color: "#2f4f4f", width: 2, type: [2, 3] } },
            ],
          },
        });
      }
      series.push({ type: "line", xAxisIndex: k, yAxisIndex: k, data: pts(P.mean, 6), symbol: "none", silent: true, z: 4, lineStyle: { color: MEANC, width: 3, type: [3, 2] } });
      series.push({ type: "line", xAxisIndex: k, yAxisIndex: k, data: pts(P.ctrl, 6), symbol: "none", silent: true, z: 5, lineStyle: { color: BLUE, width: 3 } });
      series.push({ type: "line", xAxisIndex: k, yAxisIndex: k, data: pts(P.oper, 6), symbol: "none", silent: true, z: 6, lineStyle: { color: RED, width: 3 } });
    } else {
      const ml: any[] = [];
      for (let h = 12; h <= 360; h += 6) {
        if (h % 24 === 0 && h <= 336) ml.push({ xAxis: h, lineStyle: { color: "#5a5a5a", width: 1, type: "solid" } });
        else ml.push({ xAxis: h, lineStyle: { color: "#dadada", width: 1, type: "solid" } });
      }
      series.push({
        type: "line", xAxisIndex: k, yAxisIndex: k, data: pts(C_CTRL, 9), symbol: "none", silent: true, z: 1,
        lineStyle: { opacity: 0 },
        markLine: { silent: true, symbol: ["none", "none"], label: { show: false }, animation: false, data: ml },
      });
      const barData: any[] = [];
      C_LOW.forEach((lo, i) => {
        if (lo < 100) barData.push([9 + 6 * i, lo, C_HIGH[i], C_MED[i]]);
      });
      series.push({
        type: "custom", xAxisIndex: k, yAxisIndex: k, z: 2, silent: true,
        encode: { x: 0, y: [1, 2] },
        data: barData,
        renderItem: (params: any, api: any) => {
          const x = api.value(0), lo = api.value(1), hi = api.value(2), md = api.value(3);
          const t = api.coord([x, hi]);
          const b = api.coord([x, lo]);
          const w = api.size([6, 0])[0] * 0.78;
          const children: any[] = [
            { type: "rect", shape: { x: t[0] - w / 2, y: t[1], width: w, height: b[1] - t[1] }, style: { fill: "#ffffaa", stroke: "#c2c2c2", lineWidth: 1.5 } },
          ];
          if (md < 100) {
            const m = api.coord([x, md]);
            children.push({ type: "line", shape: { x1: m[0] - w / 2 + 1, y1: m[1], x2: m[0] + w / 2 - 1, y2: m[1] }, style: { stroke: "#333", lineWidth: 1 } });
          }
          return { type: "group", children };
        },
      });
      series.push({ type: "line", xAxisIndex: k, yAxisIndex: k, data: pts(C_CTRL, 9), symbol: "none", silent: true, z: 3, lineStyle: { color: BLUE, width: 2 } });
      series.push({ type: "line", xAxisIndex: k, yAxisIndex: k, data: pts(C_OPER, 9), symbol: "none", silent: true, z: 4, lineStyle: { color: "#cc3333", width: 2 } });
    }
  }

  return {
    animation: false,
    backgroundColor: "#fff",
    grid: grids,
    xAxis: xAxes,
    yAxis: yAxes,
    series,
    graphic: graphics,
  };
}

export default function App() {
  const ref = useRef<HTMLDivElement>(null);
  useEffect(() => {
    if (!ref.current) return;
    const chart = echarts.init(ref.current, null, { renderer: "svg" });
    chart.setOption(buildOption() as any);
    return () => chart.dispose();
  }, []);
  return <div ref={ref} style={{ position: "absolute", left: 0, top: 0, width: 635, height: 1800, background: "#fff" }} />;
}
